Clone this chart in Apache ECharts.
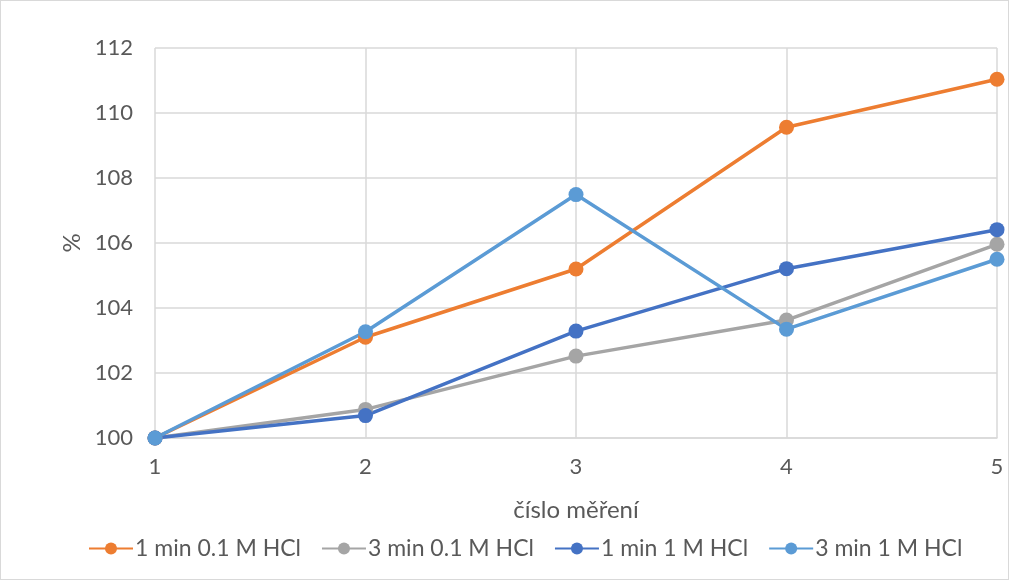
<!DOCTYPE html>
<html>
<head>
<meta charset="utf-8">
<script src="https://cdn.jsdelivr.net/npm/echarts@6/dist/echarts.min.js"></script>
<style>
  html, body { margin: 0; padding: 0; background: #fff; }
  #chart { width: 1009px; height: 580px; box-sizing: border-box; border: 1px solid #d9d9d9; }
</style>
</head>
<body>
<div id="chart"></div>
<script>
// Measurement numbers along the x axis
const categories = ['1', '2', '3', '4', '5'];

// Relative values (%) for each treatment
const min1_01M = [100, 103.1, 105.2, 109.56, 111.04];
const min3_01M = [100, 100.88, 102.52, 103.63, 105.96];
const min1_1M  = [100, 100.69, 103.29, 105.21, 106.41];
const min3_1M  = [100, 103.27, 107.49, 103.35, 105.5];

const seriesNames = ['1 min 0.1 M HCl', '3 min 0.1 M HCl', '1 min 1 M HCl', '3 min 1 M HCl'];
const seriesColors = ['#ed7d31', '#a5a5a5', '#4472c4', '#5b9bd5'];
const seriesData = [min1_01M, min3_01M, min1_1M, min3_1M];

const font = 'Lato, "Open Sans", sans-serif';
const textColor = '#595959';
const gridColor = '#d9d9d9';

const chart = echarts.init(document.getElementById('chart'));
chart.setOption({
  animation: false,
  textStyle: { fontFamily: font },
  grid: { left: 154, right: 11, top: 47, bottom: 141, containLabel: false },
  legend: {
    bottom: 14,
    left: 82,
    itemWidth: 44,
    itemHeight: 15,
    itemGap: 20,
    textStyle: { fontFamily: font, fontSize: 23, color: textColor, padding: [0, 0, 0, -3] },
    data: seriesNames
  },
  xAxis: {
    type: 'category',
    data: categories,
    boundaryGap: false,
    name: 'číslo měření',
    nameLocation: 'middle',
    nameGap: 60,
    nameTextStyle: { fontFamily: font, fontSize: 24, color: textColor },
    axisLine: { lineStyle: { color: gridColor, width: 1.5 } },
    axisTick: { show: false },
    axisLabel: { fontFamily: font, fontSize: 22, color: textColor, margin: 18 },
    splitLine: { show: true, lineStyle: { color: gridColor, width: 1.5 } }
  },
  yAxis: {
    type: 'value',
    min: 100,
    max: 112,
    interval: 2,
    name: '%',
    nameLocation: 'middle',
    nameGap: 64,
    nameRotate: 90,
    nameTextStyle: { fontFamily: font, fontSize: 24, color: textColor },
    axisLine: { show: false },
    axisTick: { show: false },
    axisLabel: { fontFamily: font, fontSize: 22, color: textColor, margin: 22 },
    splitLine: { lineStyle: { color: gridColor, width: 1.5 } }
  },
  series: seriesData.map((d, i) => ({
    name: seriesNames[i],
    type: 'line',
    data: d,
    symbol: 'circle',
    symbolSize: 15,
    lineStyle: { color: seriesColors[i], width: 3.5 },
    itemStyle: { color: seriesColors[i] },
    emphasis: { disabled: true }
  }))
});
</script>
</body>
</html>
